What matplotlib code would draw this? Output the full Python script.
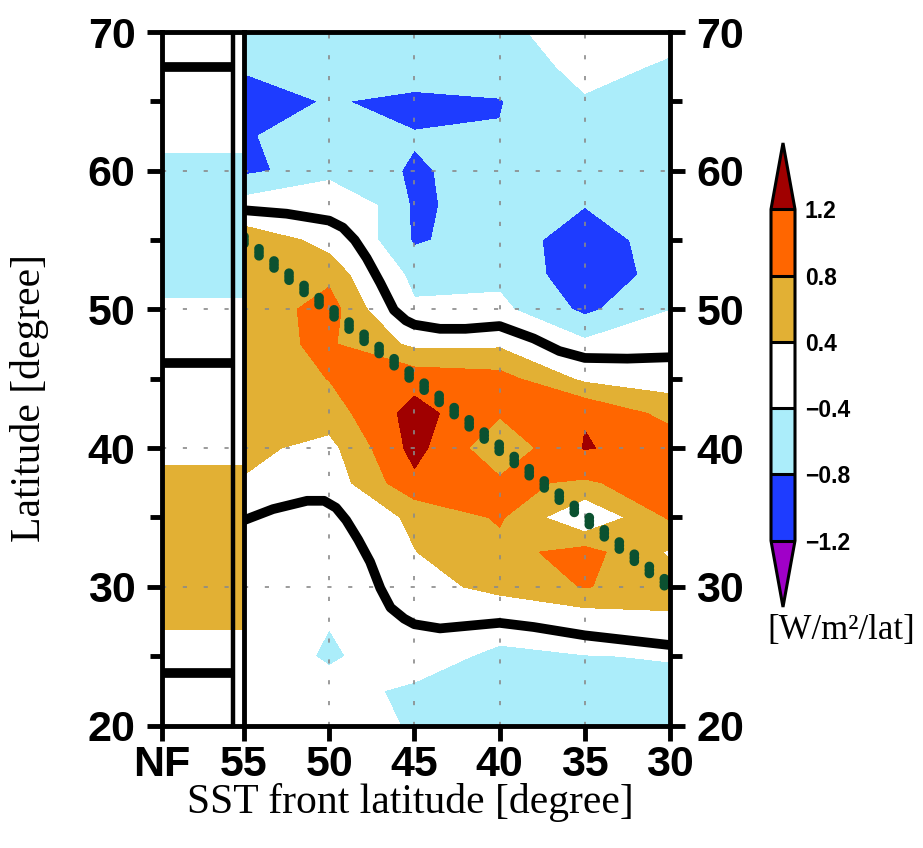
import numpy as np
import matplotlib
matplotlib.use("Agg")
import matplotlib.pyplot as plt
from matplotlib.colors import ListedColormap, BoundaryNorm
from matplotlib.transforms import offset_copy

plt.rcParams['font.family'] = ['Liberation Sans', 'DejaVu Sans']

# SST front latitude of each experiment [deg N]
front_lat = [55, 50, 45, 40, 35, 30]
# latitude rows [deg N], north to south
lat_rows = [70, 67.5, 65, 62.5, 60, 57.5, 55, 52.5, 50, 47.5, 45,
            42.5, 40, 37.5, 35, 32.5, 30, 27.5, 25, 22.5, 20]

# flux response [W/m2/lat] of each front experiment along lat_rows
resp_55 = [-0.60, -0.75, -1.00, -0.82, -0.88, -0.22, 0.82, 0.78, 0.50, 0.70, 0.50,
           0.60, 0.50, 0.37, 0.20, 0.10, 0.05, 0.00, -0.05, -0.10, -0.10]
resp_50 = [-0.60, -0.70, -0.77, -0.70, -0.63, 0.19, 0.20, 0.70, 0.98, 0.85, 0.81,
           0.60, 0.27, 0.15, 0.10, 0.00, -0.10, -0.38, -0.47, -0.22, -0.15]
resp_45 = [-0.50, -0.55, -0.90, -0.78, -0.83, -0.86, -0.85, -0.55, -0.32, 0.31, 1.05,
           1.35, 1.33, 1.11, 0.46, 0.39, 0.20, 0.00, -0.10, -0.50, -0.45]
resp_40 = [-0.55, -0.60, -0.82, -0.78, -0.70, -0.65, -0.60, -0.50, -0.30, 0.33, 0.95,
           0.84, 0.50, 0.87, 0.85, 0.67, 0.55, -0.08, -0.55, -0.55, -0.50]
resp_35 = [-0.10, -0.30, -0.43, -0.60, -0.70, -0.79, -1.00, -1.05, -0.89, -0.31, 0.31,
           1.18, 1.22, 0.75, 0.00, 0.95, 0.82, 0.12, -0.42, -0.55, -0.50]
resp_30 = [-0.30, -0.44, -0.55, -0.60, -0.60, -0.60, -0.62, -0.65, -0.41, -0.10, 0.20,
           0.66, 1.06, 1.00, 0.85, 0.35, 0.60, 0.31, -0.37, -0.55, -0.50]
# no-front (NF) experiment
resp_nf = [-0.10, -0.15, -0.20, -0.30, -0.50, -0.60, -0.60, -0.50, -0.35, -0.10, 0.00,
           0.10, 0.30, 0.50, 0.60, 0.65, 0.60, 0.45, 0.25, 0.10, 0.00]

# black reference curves (front latitude, latitude)
upper_front = [55, 52.5, 50, 49.2, 48.5, 47.8, 47.0, 46.2, 45.5, 45.0, 43.5, 42.0,
               40, 38, 36.5, 35, 32.5, 30]
upper_lat = [57.15, 56.9, 56.4, 55.9, 55.0, 53.7, 51.9, 49.95, 49.2, 48.9, 48.6, 48.6,
             48.8, 47.9, 47.0, 46.5, 46.45, 46.55]
lower_front = [55, 53.3, 51.3, 50.3, 49.6, 49.0, 48.3, 47.6, 47.0, 46.4, 45.6, 45.0,
               43.5, 40, 38, 35, 30]
lower_lat = [34.8, 35.6, 36.2, 36.2, 35.7, 34.8, 33.4, 31.8, 29.9, 28.5, 27.7, 27.3,
             27.0, 27.4, 27.1, 26.5, 25.8]
nf_lines = [67.5, 46.1, 23.8]
# front position itself (front latitude == latitude)
diag_front = [55, 30]

# shading
levels = [-1.2, -0.8, -0.4, 0.4, 0.8, 1.2]
level_colors = ['#1e3cff', '#abedfa', '#ffffff', '#e2b034', '#ff6600']
under_color = '#a000c8'
over_color = '#a00000'

cmap = ListedColormap(level_colors)
cmap.set_under(under_color)
cmap.set_over(over_color)
norm = BoundaryNorm(levels, cmap.N)

W, H = 923, 848
fig = plt.figure(figsize=(W / 100, H / 100), dpi=100)


def fx(px):
    return px / W


def fy(py):
    return 1 - py / H


y_top, y_bot = 32, 725.5
ax_nf = fig.add_axes([fx(162), fy(y_bot), fx(244) - fx(162), fy(y_top) - fy(y_bot)])
ax = fig.add_axes([fx(244), fy(y_bot), fx(670) - fx(244), fy(y_top) - fy(y_bot)])

lat_arr = np.array(lat_rows, dtype=float)
front_arr = np.array(front_lat, dtype=float)
field = np.array([resp_55, resp_50, resp_45, resp_40, resp_35, resp_30]).T

# sort to ascending coordinates for contouring
yi = np.argsort(lat_arr)
xi = np.argsort(front_arr)
cs = ax.contourf(front_arr[xi], lat_arr[yi], field[yi][:, xi], levels=levels,
                 cmap=cmap, norm=norm, extend='both', zorder=1)

spine_lw = 3.5
grid_kw = dict(color='#8a8a8a', linestyle=(0, (2.5, 10)), linewidth=1.2)

# main panel
ax.set_xlim(55, 30)
ax.set_ylim(20, 70)
ax.set_xticks([55, 50, 45, 40, 35, 30])
ax.set_xticklabels(['55', '50', '45', '40', '35', '30'])
ax.set_yticks([20, 30, 40, 50, 60, 70])
ax.set_yticks([25, 35, 45, 55, 65], minor=True)
ax.yaxis.set_ticks_position('right')
ax.tick_params(axis='y', which='both', left=False, right=True,
               labelleft=False, labelright=True)
ax.set_axisbelow(False)
ax.grid(True, which='major', **grid_kw)

ax.plot(upper_front, upper_lat, color='black', lw=7, solid_joinstyle='round',
        solid_capstyle='round', zorder=3)
ax.plot(lower_front, lower_lat, color='black', lw=7, solid_joinstyle='round',
        solid_capstyle='round', zorder=3)

# front position: dotted line of vertically stretched dots
for dy in (-3.5, 0.0, 3.5):
    tr = offset_copy(ax.transData, fig=fig, x=0, y=dy, units='dots')
    ax.plot(diag_front, diag_front, color='#0b5130', lw=7.0,
            linestyle=(0, (0.001, 1.99)), dash_capstyle='round',
            transform=tr, zorder=4)

# NF panel
nf_vals = np.array(resp_nf, dtype=float)
ax_nf.contourf([0, 1], lat_arr[yi], np.column_stack([nf_vals, nf_vals])[yi],
               levels=levels, cmap=cmap, norm=norm, extend='both', zorder=1)
ax_nf.set_xlim(0, 1)
ax_nf.set_ylim(20, 70)
ax_nf.set_xticks([0])
ax_nf.set_xticklabels(['NF'])
ax_nf.set_yticks([20, 30, 40, 50, 60, 70])
ax_nf.set_yticks([25, 35, 45, 55, 65], minor=True)
ax_nf.set_axisbelow(False)
ax_nf.grid(True, axis='y', which='major', **grid_kw)
ax_nf.spines['right'].set_visible(False)
div_x = (233 - 162) / (244 - 162)
ax_nf.axvline(div_x, color='black', lw=3.2, zorder=5)
for yv in nf_lines:
    ax_nf.plot([0, div_x], [yv, yv], color='black', lw=7, solid_capstyle='butt', zorder=3)

for a in (ax, ax_nf):
    for s in a.spines.values():
        s.set_linewidth(spine_lw)
        s.set_zorder(6)
    a.tick_params(which='major', direction='out', length=11, width=3.5,
                  labelsize=31, pad=8)
    a.tick_params(which='minor', direction='out', length=8.5, width=3.5)
    a.tick_params(axis='x', pad=3)
    for lab in a.get_xticklabels() + a.get_yticklabels():
        lab.set_fontweight('bold')

# colorbar
cax = fig.add_axes([fx(771), fy(607), fx(795) - fx(771), fy(143) - fy(607)])
cb = fig.colorbar(cs, cax=cax, extend='both', extendfrac=0.2, drawedges=True,
                  ticks=levels)
cb.outline.set_linewidth(2.2)
cb.dividers.set_linewidth(2.2)
cb.dividers.set_color('black')
cb.set_ticklabels([f'{v:.1f}'.replace('-', '\u2212') for v in levels])
cax.tick_params(length=0, pad=7, labelsize=16.5)
for lab in cax.get_yticklabels():
    lab.set_fontweight('bold')

serif = ['Liberation Serif', 'DejaVu Serif']
fig.text(fx(841), fy(630), '[W/m\u00b2/lat]', family=serif, fontsize=25,
         ha='center', va='center')
fig.text(fx(410), fy(802), 'SST front latitude [degree]', family=serif,
         fontsize=30, ha='center', va='center')
fig.text(fx(30), fy(398), 'Latitude [degree]', family=serif, fontsize=30,
         ha='center', va='center', rotation=90)

fig.savefig('out.png', dpi=100)
